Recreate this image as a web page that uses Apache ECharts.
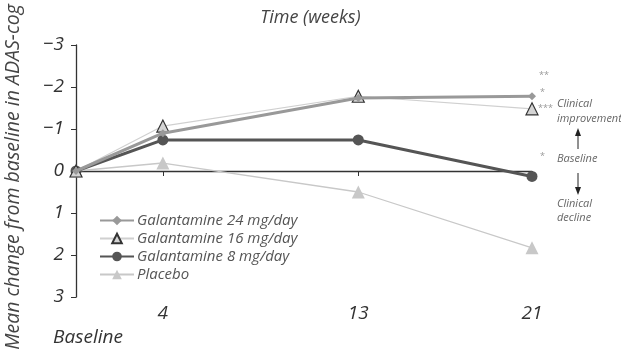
<!DOCTYPE html>
<html><head><meta charset="utf-8">
<script src="https://cdn.jsdelivr.net/npm/echarts@6/dist/echarts.min.js"></script>
<style>html,body{margin:0;padding:0;background:#fff}#c{width:621px;height:349px}</style>
</head><body><div id="c"></div>
<script>
const weeks = [0, 4, 13, 21];
const xTicks = [0, 4, 13, 21];
const yTicks = [-3, -2, -1, 0, 1, 2, 3];
const gal24 = [0, -0.9, -1.74, -1.78];
const gal16 = [0, -1.07, -1.78, -1.48];
const gal8 = [0, -0.74, -0.74, 0.13];
const placebo = [0, -0.19, 0.5, 1.83];
const baselineLevel = -0.2;
const seriesNames = ['Galantamine 24 mg/day', 'Galantamine 16 mg/day', 'Galantamine 8 mg/day', 'Placebo'];

const FONT = 'Open Sans';
const pts = arr => weeks.map((w, i) => [w, arr[i]]);
const chart = echarts.init(document.getElementById('c'), null, {renderer: 'canvas'});
chart.setOption({
  animation: false,
  textStyle: {fontFamily: FONT, fontStyle: 'italic'},
  title: {text: 'Time (weeks)', left: 'center', top: 4,
    textStyle: {fontFamily: FONT, fontStyle: 'italic', fontWeight: 'normal', fontSize: 18, color: '#444'}},
  grid: {left: 76, right: 89, top: 45, bottom: 52, containLabel: false, outerBoundsMode: 'none'},
  legend: {
    orient: 'vertical', left: 94, top: 208, itemWidth: 34, itemHeight: 12, itemGap: 3,
    data: seriesNames,
    textStyle: {fontFamily: FONT, fontStyle: 'italic', fontSize: 15, color: '#555', padding: [0, 0, 0, -2]}
  },
  xAxis: {
    type: 'value', min: 0, max: 21,
    axisLine: {lineStyle: {color: '#333', width: 1.3}},
    axisTick: {show: true, customValues: xTicks, length: 5, lineStyle: {color: '#333'}},
    splitLine: {show: false},
    axisLabel: {
      customValues: xTicks, margin: 7, fontSize: 19, color: '#333', fontStyle: 'italic', fontFamily: FONT,
      formatter: v => v === 0 ? '{b|Baseline}' : String(v),
      rich: {b: {fontSize: 19, fontStyle: 'italic', fontFamily: FONT, color: '#333', padding: [24, 0, 0, 24]}}
    }
  },
  yAxis: {
    type: 'value', inverse: true, min: -3, max: 3, interval: 1,
    name: 'Mean change from baseline in ADAS-cog', nameLocation: 'middle', nameGap: 53, nameRotate: 90,
    nameTextStyle: {fontFamily: FONT, fontStyle: 'italic', fontSize: 19.5, color: '#444', padding: [0, 12, 0, 0]},
    axisLine: {show: true, lineStyle: {color: '#333', width: 1.3}},
    axisTick: {show: true, length: 5, lineStyle: {color: '#333'}},
    splitLine: {show: false},
    axisLabel: {margin: 12, fontSize: 19, color: '#333', fontFamily: FONT, fontStyle: 'italic',
      formatter: v => v < 0 ? '\u2212' + (-v) : String(v)}
  },
  series: [
    {name: seriesNames[3], type: 'line', data: pts(placebo), z: 2,
      lineStyle: {color: '#c8c8c8', width: 1.3}, itemStyle: {color: '#c8c8c8'},
      symbol: 'triangle', symbolSize: 13, showSymbol: true,
      markLine: {silent: true, symbol: 'none', label: {show: false},
        lineStyle: {color: '#222', type: [4, 3], width: 1.2},
        data: [[{coord: [0, baselineLevel]}, {coord: [21.2, baselineLevel]}]]}},
    {name: seriesNames[2], type: 'line', data: pts(gal8), z: 3,
      lineStyle: {color: '#555', width: 3}, itemStyle: {color: '#555'},
      symbol: 'circle', symbolSize: 11},
    {name: seriesNames[1], type: 'line', data: pts(gal16), z: 4,
      lineStyle: {color: '#d0d0d0', width: 1.2}, itemStyle: {color: '#d4d4d4', borderColor: '#333', borderWidth: 1.2},
      symbol: 'triangle', symbolSize: 12},
    {name: seriesNames[0], type: 'line', data: pts(gal24), z: 5,
      lineStyle: {color: '#999', width: 3}, itemStyle: {color: '#999'},
      symbol: 'diamond', symbolSize: 8}
  ],
  graphic: [
    {type: 'text', left: 539, top: 71, style: {text: '**', fontSize: 9, fill: '#999', fontFamily: FONT}},
    {type: 'text', left: 540, top: 88, style: {text: '*', fontSize: 9, fill: '#999', fontFamily: FONT}},
    {type: 'text', left: 538, top: 104, style: {text: '***', fontSize: 9, fill: '#999', fontFamily: FONT}},
    {type: 'text', left: 540, top: 152, style: {text: '*', fontSize: 9, fill: '#999', fontFamily: FONT}},
    {type: 'text', left: 557, top: 96, style: {text: 'Clinical\nimprovement', fontSize: 11, lineHeight: 15, fill: '#666', fontFamily: FONT, fontStyle: 'italic'}},
    {type: 'text', left: 557, top: 153, style: {text: 'Baseline', fontSize: 11, fill: '#666', fontFamily: FONT, fontStyle: 'italic'}},
    {type: 'text', left: 557, top: 197, style: {text: 'Clinical\ndecline', fontSize: 11, lineHeight: 14, fill: '#666', fontFamily: FONT, fontStyle: 'italic'}},
    {type: 'line', shape: {x1: 578, y1: 149, x2: 578, y2: 134}, style: {stroke: '#222', lineWidth: 1}},
    {type: 'polygon', shape: {points: [[575, 136], [581, 136], [578, 128]]}, style: {fill: '#222'}},
    {type: 'line', shape: {x1: 578, y1: 173, x2: 578, y2: 188}, style: {stroke: '#222', lineWidth: 1}},
    {type: 'polygon', shape: {points: [[575, 187], [581, 187], [578, 195]]}, style: {fill: '#222'}}
  ]
});
</script></body></html>
